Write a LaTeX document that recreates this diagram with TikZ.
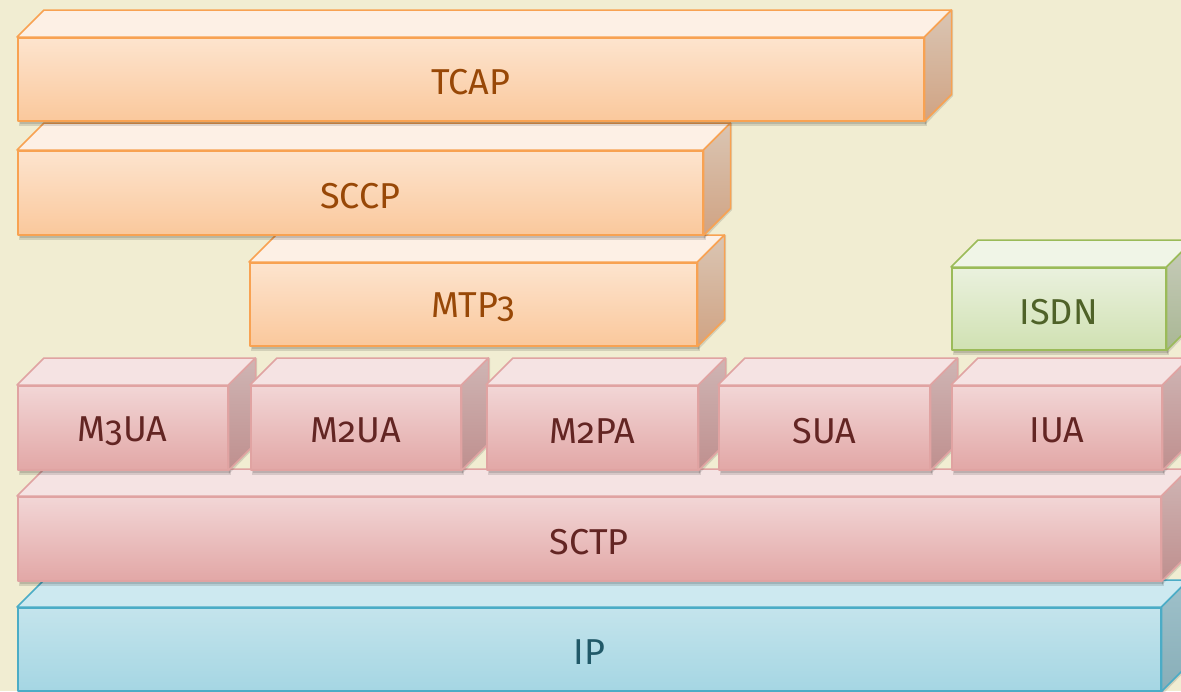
\documentclass[tikz,border=0pt]{standalone}
\usepackage{fontspec}
\setmainfont{Fira Sans}[Numbers=OldStyle]
\usetikzlibrary{shadings}
\definecolor{bgc}{HTML}{F1EDD2}
% orange
\definecolor{oS}{HTML}{F8A252}\definecolor{oT}{HTML}{984807}
\definecolor{oF1}{HTML}{FDE4CE}\definecolor{oF2}{HTML}{FAC89C}
\definecolor{oTop}{HTML}{FDF0E5}\definecolor{oS1}{HTML}{DAC5B3}\definecolor{oS2}{HTML}{D0A383}
% pink
\definecolor{pS}{HTML}{E0A3A2}\definecolor{pT}{HTML}{632523}
\definecolor{pF1}{HTML}{F2D6D6}\definecolor{pF2}{HTML}{E2A7A6}
\definecolor{pTop}{HTML}{F5E3E3}\definecolor{pS1}{HTML}{CFB5B4}\definecolor{pS2}{HTML}{BF8F8E}
% green
\definecolor{gS}{HTML}{9BBB59}\definecolor{gT}{HTML}{4F6228}
\definecolor{gF1}{HTML}{EAF1DE}\definecolor{gF2}{HTML}{D0E1B2}
\definecolor{gTop}{HTML}{F0F5E7}\definecolor{gS1}{HTML}{C8CCBB}\definecolor{gS2}{HTML}{A9B794}
% blue
\definecolor{bS}{HTML}{4BACC6}\definecolor{bT}{HTML}{215968}
\definecolor{bF1}{HTML}{C4E4EC}\definecolor{bF2}{HTML}{A5D6E3}
\definecolor{bTop}{HTML}{CDE9F0}\definecolor{bS1}{HTML}{9FC1CA}\definecolor{bS2}{HTML}{88AEB8}
\tikzset{
  frontO/.style={draw=oS,top color=oF1,bottom color=oF2,text=oT},
  frontP/.style={draw=pS,top color=pF1,bottom color=pF2,text=pT},
  frontG/.style={draw=gS,top color=gF1,bottom color=gF2,text=gT},
  frontB/.style={draw=bS,top color=bF1,bottom color=bF2,text=bT},
  topO/.style={draw=oS,fill=oTop},sideO/.style={draw=oS,top color=oS1,bottom color=oS2},
  topP/.style={draw=pS,fill=pTop},sideP/.style={draw=pS,top color=pS1,bottom color=pS2},
  topG/.style={draw=gS,fill=gTop},sideG/.style={draw=gS,top color=gS1,bottom color=gS2},
  topB/.style={draw=bS,fill=bTop},sideB/.style={draw=bS,top color=bS1,bottom color=bS2},
  slabface/.style={line width=1.5pt,line join=round,inner sep=0pt,anchor=north west},
  slabtext/.style={font=\fontsize{36}{40}\selectfont},
  shadowc/.style={fill=black,opacity=0.12},
}
\newcommand\mkslab[7]{%
  \fill[shadowc] (#2+2,#3+6) rectangle (#2+#4+4,#3+#5+6);
  \fill[shadowc] (#2+3,#3+6) rectangle (#2+#4+3,#3+#5+4);
  \fill[shadowc] (#2+#4,#3) -- ++(30,-27) -- ++(0,#5+3) -- (#2+#4+2,#3+#5+5) -- cycle;
  \node[slabface,front#6,minimum width=#4,minimum height=#5] (#1) at (#2,#3) {};
  \node[slabtext,text=#6T] (#1-t) at ([yshift=-3pt]#1.center) {#7};
  \filldraw[slabface,top#6] (#1.north west) -- ++(27,-27) -- ([shift={(27,-27)}]#1.north east) -- (#1.north east) -- cycle;
  \filldraw[slabface,side#6] (#1.north east) -- ++(27,-27) -- ([shift={(27,-27)}]#1.south east) -- (#1.south east) -- cycle;
}
\colorlet{OT}{oT}\colorlet{PT}{pT}\colorlet{GT}{gT}\colorlet{BT}{bT}
\begin{document}
\begin{tikzpicture}[x=1pt,y=-1pt]
\useasboundingbox (0,0) rectangle (1181,691);
\clip (0,0) rectangle (1181,691);
\fill[bgc] (0,0) rectangle (1181,691);
\mkslab{ip}{17}{607}{1143}{83}{B}{IP}
\mkslab{sctp}{17}{496}{1143}{84}{P}{SCTP}
\mkslab{m3ua}{17}{385}{210}{84}{P}{M3UA}
\mkslab{m2ua}{250}{385}{210}{84}{P}{M2UA}
\mkslab{m2pa}{486}{385}{211}{84}{P}{M2PA}
\mkslab{sua}{718}{385}{211}{84}{P}{SUA}
\mkslab{iua}{951}{385}{210}{84}{P}{IUA}
\mkslab{isdn}{951}{267}{214}{82}{G}{ISDN}
\mkslab{mtp}{249}{262}{447}{83}{O}{MTP3}
\mkslab{sccp}{17}{150}{685}{84}{O}{SCCP}
\mkslab{tcap}{17}{37}{906}{83}{O}{TCAP}
\end{tikzpicture}
\end{document}
